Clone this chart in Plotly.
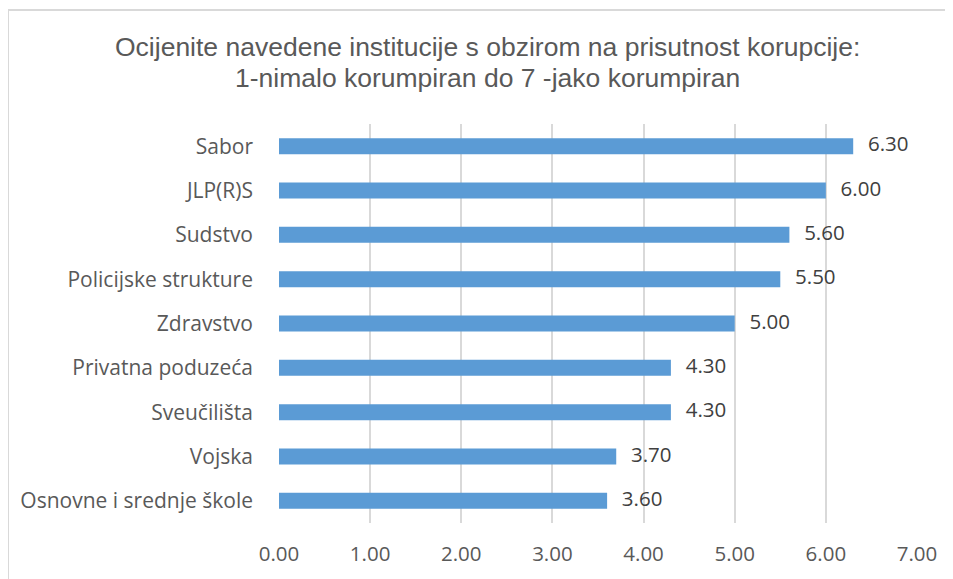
import plotly.graph_objects as go

categories = ["Sabor", "JLP(R)S", "Sudstvo", "Policijske strukture", "Zdravstvo",
              "Privatna poduzeća", "Sveučilišta", "Vojska", "Osnovne i srednje škole"]
values = [6.30, 6.00, 5.60, 5.50, 5.00, 4.30, 4.30, 3.70, 3.60]
tick_vals = [0, 1, 2, 3, 4, 5, 6, 7]
tick_text = ["0.00", "1.00", "2.00", "3.00", "4.00", "5.00", "6.00", "7.00"]
title_lines = ["Ocijenite navedene institucije s obzirom na prisutnost korupcije:",
               "1-nimalo korumpiran do 7 -jako korumpiran"]

# page is offset by the default 8px body margin
OFF = 8
W, H = 953 - OFF, 579 - OFF
L, T = 279 - OFF, 124 - OFF
RIGHT, BOTTOM = 917 - OFF, 523 - OFF
R, B = W - RIGHT, H - BOTTOM
pw, ph = RIGHT - L, BOTTOM - T


def px_x(p):
    return (p - OFF - L) / pw


def px_y(p):
    return 1 - (p - OFF - T) / ph


fig = go.Figure()
fig.add_trace(go.Bar(
    x=values, y=categories, orientation="h",
    marker=dict(color="#5B9BD5", line=dict(width=0)),
    width=0.36, hoverinfo="skip",
))
fig.add_trace(go.Scatter(
    x=values, y=categories, mode="markers+text",
    marker=dict(size=22, opacity=0),
    text=[f"{v:.2f}" for v in values], textposition="middle right",
    textfont=dict(family="Open Sans", size=20.5, color="#404040"),
    cliponaxis=False, hoverinfo="skip",
))

fig.update_layout(
    width=W, height=H,
    margin=dict(l=L, r=R, t=T, b=B, autoexpand=False),
    paper_bgcolor="white", plot_bgcolor="white",
    showlegend=False,
    xaxis=dict(range=[0, 7], tickvals=tick_vals, ticktext=tick_text,
               showgrid=True, gridcolor="#D9D9D9", gridwidth=1.5,
               zeroline=False, showline=False, ticks="",
               tickfont=dict(family="Open Sans", size=20.5, color="#595959"),
               ticklabelstandoff=16),
    yaxis=dict(range=[len(categories) - 0.5, -0.5], showgrid=False, zeroline=False,
               showline=False, ticks="",
               tickfont=dict(family="Open Sans", size=21, color="#595959"),
               ticklabelstandoff=25),
    annotations=[
        dict(text=title_lines[0], x=px_x(487), y=px_y(47),
             xref="paper", yref="paper", xanchor="center", yanchor="middle",
             showarrow=False,
             font=dict(family="Liberation Sans", size=26.5, color="#595959")),
        dict(text=title_lines[1], x=px_x(487), y=px_y(78),
             xref="paper", yref="paper", xanchor="center", yanchor="middle",
             showarrow=False,
             font=dict(family="Liberation Sans", size=26.5, color="#595959")),
    ],
    shapes=[
        dict(type="line", xref="paper", yref="paper", x0=px_x(8), x1=px_x(953),
             y0=px_y(10), y1=px_y(10), line=dict(color="#D9D9D9", width=2)),
        dict(type="line", xref="paper", yref="paper", x0=px_x(8), x1=px_x(8),
             y0=px_y(10), y1=px_y(579), line=dict(color="#D9D9D9", width=2)),
    ],
)

fig.write_html("out.html")
